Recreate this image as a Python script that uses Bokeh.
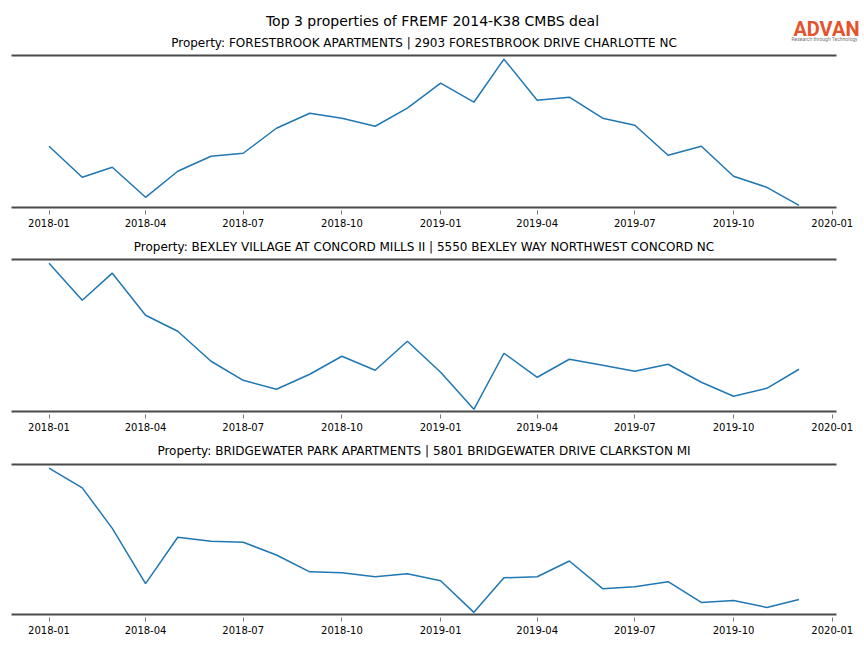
import pandas as pd
from bokeh.plotting import figure
from bokeh.models import Range1d, FixedTicker, DatetimeTickFormatter, LinearAxis, Title
from bokeh.core.properties import value
from bokeh.layouts import column, row
from bokeh.embed import file_html
from bokeh.resources import INLINE

# ---------------- data ----------------
months = pd.date_range("2018-01-01", "2019-12-01", freq="MS")

suptitle = "Top 3 properties of FREMF 2014-K38 CMBS deal"
titles = [
    "Property: FORESTBROOK APARTMENTS | 2903 FORESTBROOK DRIVE CHARLOTTE NC",
    "Property: BEXLEY VILLAGE AT CONCORD MILLS II | 5550 BEXLEY WAY NORTHWEST CONCORD NC",
    "Property: BRIDGEWATER PARK APARTMENTS | 5801 BRIDGEWATER DRIVE CLARKSTON MI",
]
logo_text = "ADVAN"
logo_tagline = "Research through Technology"

forestbrook = [61, 30, 40, 10, 36, 51, 54, 79, 94, 89, 81, 99,
               124, 105, 148, 107, 110, 89, 82, 52, 61, 31, 20, 2]
bexley = [149, 112, 139, 97, 81, 51, 32, 23, 38, 56, 42, 71,
          40, 3, 59, 35, 53, 47, 41, 48, 30, 16, 24, 43]
bridgewater = [147, 127, 86, 30, 77, 73, 72, 59, 42, 41, 37, 40,
               33, 1, 36, 37, 53, 25, 27, 32, 11, 13, 6, 14]
series = [forestbrook, bexley, bridgewater]

tick_labels = ["2018-01", "2018-04", "2018-07", "2018-10", "2019-01",
               "2019-04", "2019-07", "2019-10", "2020-01"]

# ---------------- layout ----------------
W = 864
HEADER_H = 51
heights = [179, 204, 214]
borders_top = [4, 29, 30]
borders_bottom = [23, 23, 34]
title_standoff = [None, 12, 14]
LINE = "#1f77b4"
SPINE = "#4a4a4a"
FONT = "DejaVu Sans"

# header strip: suptitle, logo and first panel title
header = figure(width=W, height=HEADER_H, x_range=Range1d(0, W), y_range=Range1d(HEADER_H, 0),
                output_backend="svg", toolbar_location=None,
                x_axis_location=None, y_axis_location=None,
                min_border_left=0, min_border_right=0, min_border_top=0, min_border_bottom=0)
header.outline_line_color = None
header.grid.visible = False
header.text(x=[432], y=[20], text=[suptitle], text_align="center", text_baseline="middle",
            text_font=value(FONT), text_font_size="14px", text_color="black")
header.text(x=[423.5], y=[42], text=[titles[0]], text_align="center", text_baseline="middle",
            text_font=value(FONT), text_font_size="12px", text_color="black")
header.text(x=[859], y=[28.5], text=[logo_text], text_align="right", text_baseline="middle",
            text_font=value("Roboto"), text_font_size="20px", text_font_style="bold",
            text_color="#e5532b")
header.text(x=[857], y=[38.5], text=[logo_tagline], text_align="right", text_baseline="middle",
            text_font=value("Roboto"), text_font_size="5px", text_color="#777777")

span = months[-1] - months[0]
x_start = months[0] - span * 0.05
x_end = months[-1] + span * 0.05
tick_ms = [pd.Timestamp(t + "-01").value / 1e6 for t in tick_labels]
fmt = "%Y-%m"

panels = []
for i, vals in enumerate(series):
    lo, hi = min(vals), max(vals)
    sp = hi - lo
    p = figure(width=W, height=heights[i], x_axis_type="datetime",
               x_range=Range1d(x_start, x_end),
               y_range=Range1d(lo - 0.015 * sp, hi + 0.025 * sp),
               output_backend="svg", toolbar_location=None,
               y_axis_location=None,
               min_border_left=11, min_border_right=28,
               min_border_top=borders_top[i], min_border_bottom=borders_bottom[i])
    p.outline_line_color = None
    p.grid.visible = False
    p.background_fill_color = "white"
    p.border_fill_color = "white"
    p.line(months, vals, line_color=LINE, line_width=1.5)

    ax = p.xaxis[0]
    ax.ticker = FixedTicker(ticks=tick_ms)
    ax.formatter = DatetimeTickFormatter(milliseconds=fmt, seconds=fmt, minsec=fmt,
                                         minutes=fmt, hourmin=fmt, hours=fmt,
                                         days=fmt, months=fmt, years=fmt)
    ax.minor_tick_line_color = None
    ax.major_tick_in = -3
    ax.major_tick_out = 7
    ax.major_tick_line_color = "#777777"
    ax.major_label_standoff = 4
    ax.major_label_text_font = FONT
    ax.major_label_text_font_size = "10px"
    ax.major_label_text_color = "black"
    ax.axis_line_width = 2
    ax.axis_line_color = SPINE

    top = LinearAxis(ticker=FixedTicker(ticks=[]), axis_line_width=2, axis_line_color=SPINE,
                     major_tick_line_color=None, minor_tick_line_color=None,
                     major_tick_out=0, major_tick_in=0,
                     major_label_text_font_size="0px", major_label_standoff=0)
    p.add_layout(top, "above")

    if i > 0:
        p.add_layout(Title(text=titles[i], align="center", text_font=FONT,
                           text_font_size="12px", text_font_style="normal",
                           text_color="black", standoff=title_standoff[i]), "above")
    panels.append(p)

layout = column(row(header), column(*panels, spacing=0), spacing=0)
open("out.html", "w").write(file_html(layout, INLINE))
